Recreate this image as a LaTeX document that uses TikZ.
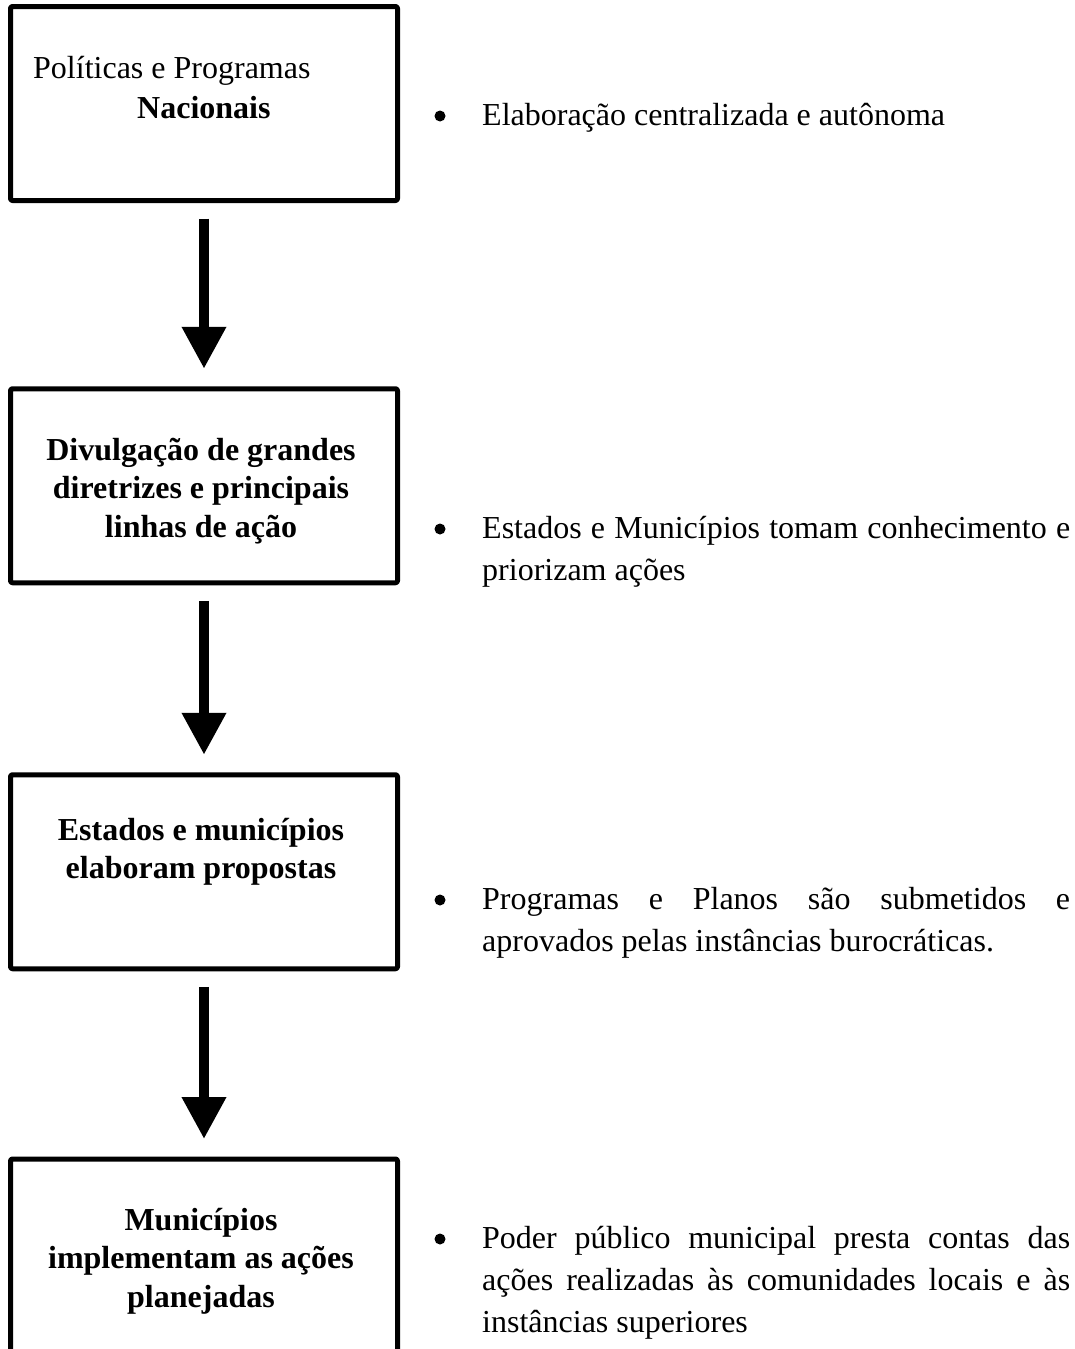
\documentclass[tikz,border=0pt]{standalone}
\usepackage{fontspec}
\setmainfont{Liberation Serif}
\usetikzlibrary{arrows.meta,positioning}

\newcommand\jline[1]{\makebox[588pt][s]{#1}}

\begin{document}
\begin{tikzpicture}[x=1pt,y=-1pt,line join=round,
	plainspace/.style={execute at begin node={\spaceskip=0pt\xspaceskip=0pt}},
	fixedspace/.style={execute at begin node={\spaceskip=\fontdimen2\font\xspaceskip=\fontdimen2\font}},
	stage/.style={draw,line width=5pt,rounded corners=2pt,outer sep=0pt,inner sep=0pt,minimum width=387pt,minimum height=194pt},
	stagetext/.style={fixedspace,font=\fontsize{32pt}{38.5pt}\selectfont\bfseries,text width=380pt,align=center,anchor=base,inner sep=0pt},
	note/.style={plainspace,font=\fontsize{32pt}{42pt}\selectfont,text width=588pt,align=left,anchor=base west,inner sep=0pt},
	bulletmark/.style={circle,fill,inner sep=0pt,minimum size=11pt},
	flow/.style={line width=10pt,-{Triangle[length=42pt,width=42pt]},shorten <=18pt,shorten >=20pt}]
	\useasboundingbox (0,0) rectangle (1074,1349);
	\clip (0,0) rectangle (1074,1349);
	% boxes
	\node[stage] (s1) at (204,103.5) {};
	\node[stage] (s2) at (204,485.75) {};
	\node[stage] (s3) at (204,871.75) {};
	\node[stage] (s4) at (204,1256) {};
	\node[plainspace,anchor=base west,inner sep=0pt,text width=370pt,align=left,font=\fontsize{32pt}{40pt}\selectfont] (t1) at (33,78) {Políticas e Programas\\\hspace*{104pt}\textbf{Nacionais}};
	\node[stagetext] (t2) at (201,460) {Divulgação de grandes\\diretrizes e principais\\linhas de ação};
	\node[stagetext] (t3) at (201,840) {Estados e municípios\\elaboram propostas};
	\node[stagetext] (t4) at (201,1230) {Municípios\\implementam as ações\\planejadas};
	\foreach \a/\b in {s1/s2,s2/s3,s3/s4}
		\draw[flow] (\a) -- (\b);
	% notes
	\foreach \y [count=\i] in {125,538,909,1248}
		\node[bulletmark] (b\i) at (440,\y-9) {};
	\node[note] (n1) at (482,125) {Elaboração centralizada e autônoma};
	\node[note] (n2) at (482,538) {\jline{Estados e Municípios tomam conhecimento e}\\priorizam ações};
	\node[note] (n3) at (482,909) {\jline{Programas e Planos são submetidos e}\\aprovados pelas instâncias burocráticas.};
	\node[note] (n4) at (482,1248) {\jline{Poder público municipal presta contas das}\\\jline{ações realizadas às comunidades locais e às}\\instâncias superiores};
\end{tikzpicture}
\end{document}
